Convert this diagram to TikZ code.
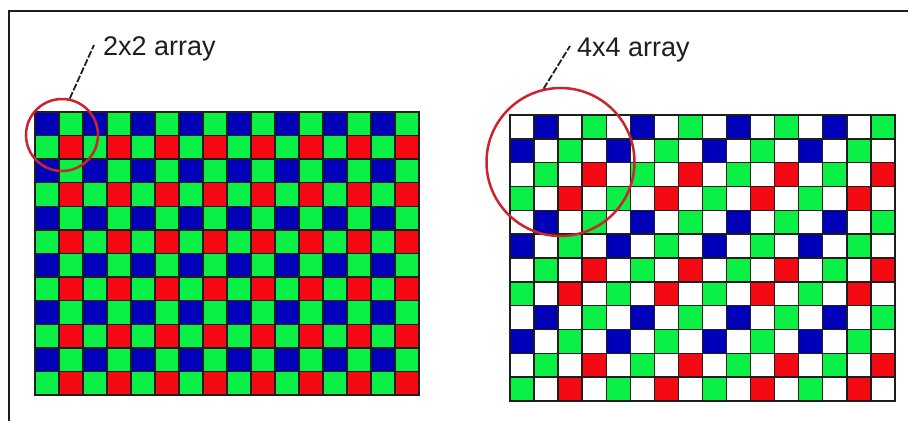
\documentclass[tikz,border=0pt]{standalone}
\usepackage{fontspec}
\setmainfont{Liberation Sans}
\definecolor{bl}{RGB}{0,0,185}
\definecolor{gr}{RGB}{10,240,70}
\definecolor{rd}{RGB}{245,10,20}
\definecolor{wh}{RGB}{255,255,255}
\definecolor{ringred}{RGB}{205,35,45}
\definecolor{ink}{RGB}{30,30,30}
\tikzset{
  cell/.style={draw=ink, line width=1.4pt},
  ring/.style={circle, draw=ringred, line width=2.5pt, inner sep=0pt},
  leader/.style={draw=ink, line width=1.8pt, dash pattern=on 7pt off 2pt},
  arraylabel/.style={anchor=base west, inner sep=0pt, text=ink, font=\fontsize{27}{32}\selectfont}
}
\begin{document}
\begin{tikzpicture}[x=1pt, y=-1pt]
    \useasboundingbox (0,0) rectangle (908,421);
    \fill[white] (0,0) rectangle (908,421);
    \draw[ink, line width=1.8pt] (9,421) -- (9,11) -- (908,11);

    % 2x2 Bayer pattern
    \begin{scope}[shift={(35,112)}, x=24pt, y=-23.58pt]
        \foreach \r in {0,...,11}
        \foreach \c in {0,...,15}{
            \pgfmathtruncatemacro{\idx}{mod(\r,2)*2+mod(\c,2)}
            \pgfmathsetmacro{\col}{{"bl","gr","gr","rd"}[\idx]}
            \filldraw[cell, fill=\col] (\c,\r) rectangle ++(1,1);
        }
    \end{scope}

    % 4x4 pattern with white cells
    \begin{scope}[shift={(510,115)}, x=24.06pt, y=-23.83pt]
        \foreach \r in {0,...,11}
        \foreach \c in {0,...,15}{
            \pgfmathtruncatemacro{\idx}{mod(\r,4)*4+mod(\c,4)}
            \pgfmathsetmacro{\col}{{"wh","bl","wh","gr","bl","wh","gr","wh","wh","gr","wh","rd","gr","wh","rd","wh"}[\idx]}
            \filldraw[cell, fill=\col] (\c,\r) rectangle ++(1,1);
        }
    \end{scope}

    \node[ring, minimum size=72pt] (ringA) at (62,135) {};
    \node[ring, minimum size=148pt] (ringB) at (560.5,162) {};
    \node[arraylabel] (labA) at (103,55) {2x2 array};
    \node[arraylabel] (labB) at (577,56) {4x4 array};
    \draw[leader] (ringA.78) -- ([xshift=-9pt,yshift=10pt]labA.base west);
    \draw[leader] (ringB.103) -- ([xshift=-7pt,yshift=10pt]labB.base west);
\end{tikzpicture}
\end{document}
